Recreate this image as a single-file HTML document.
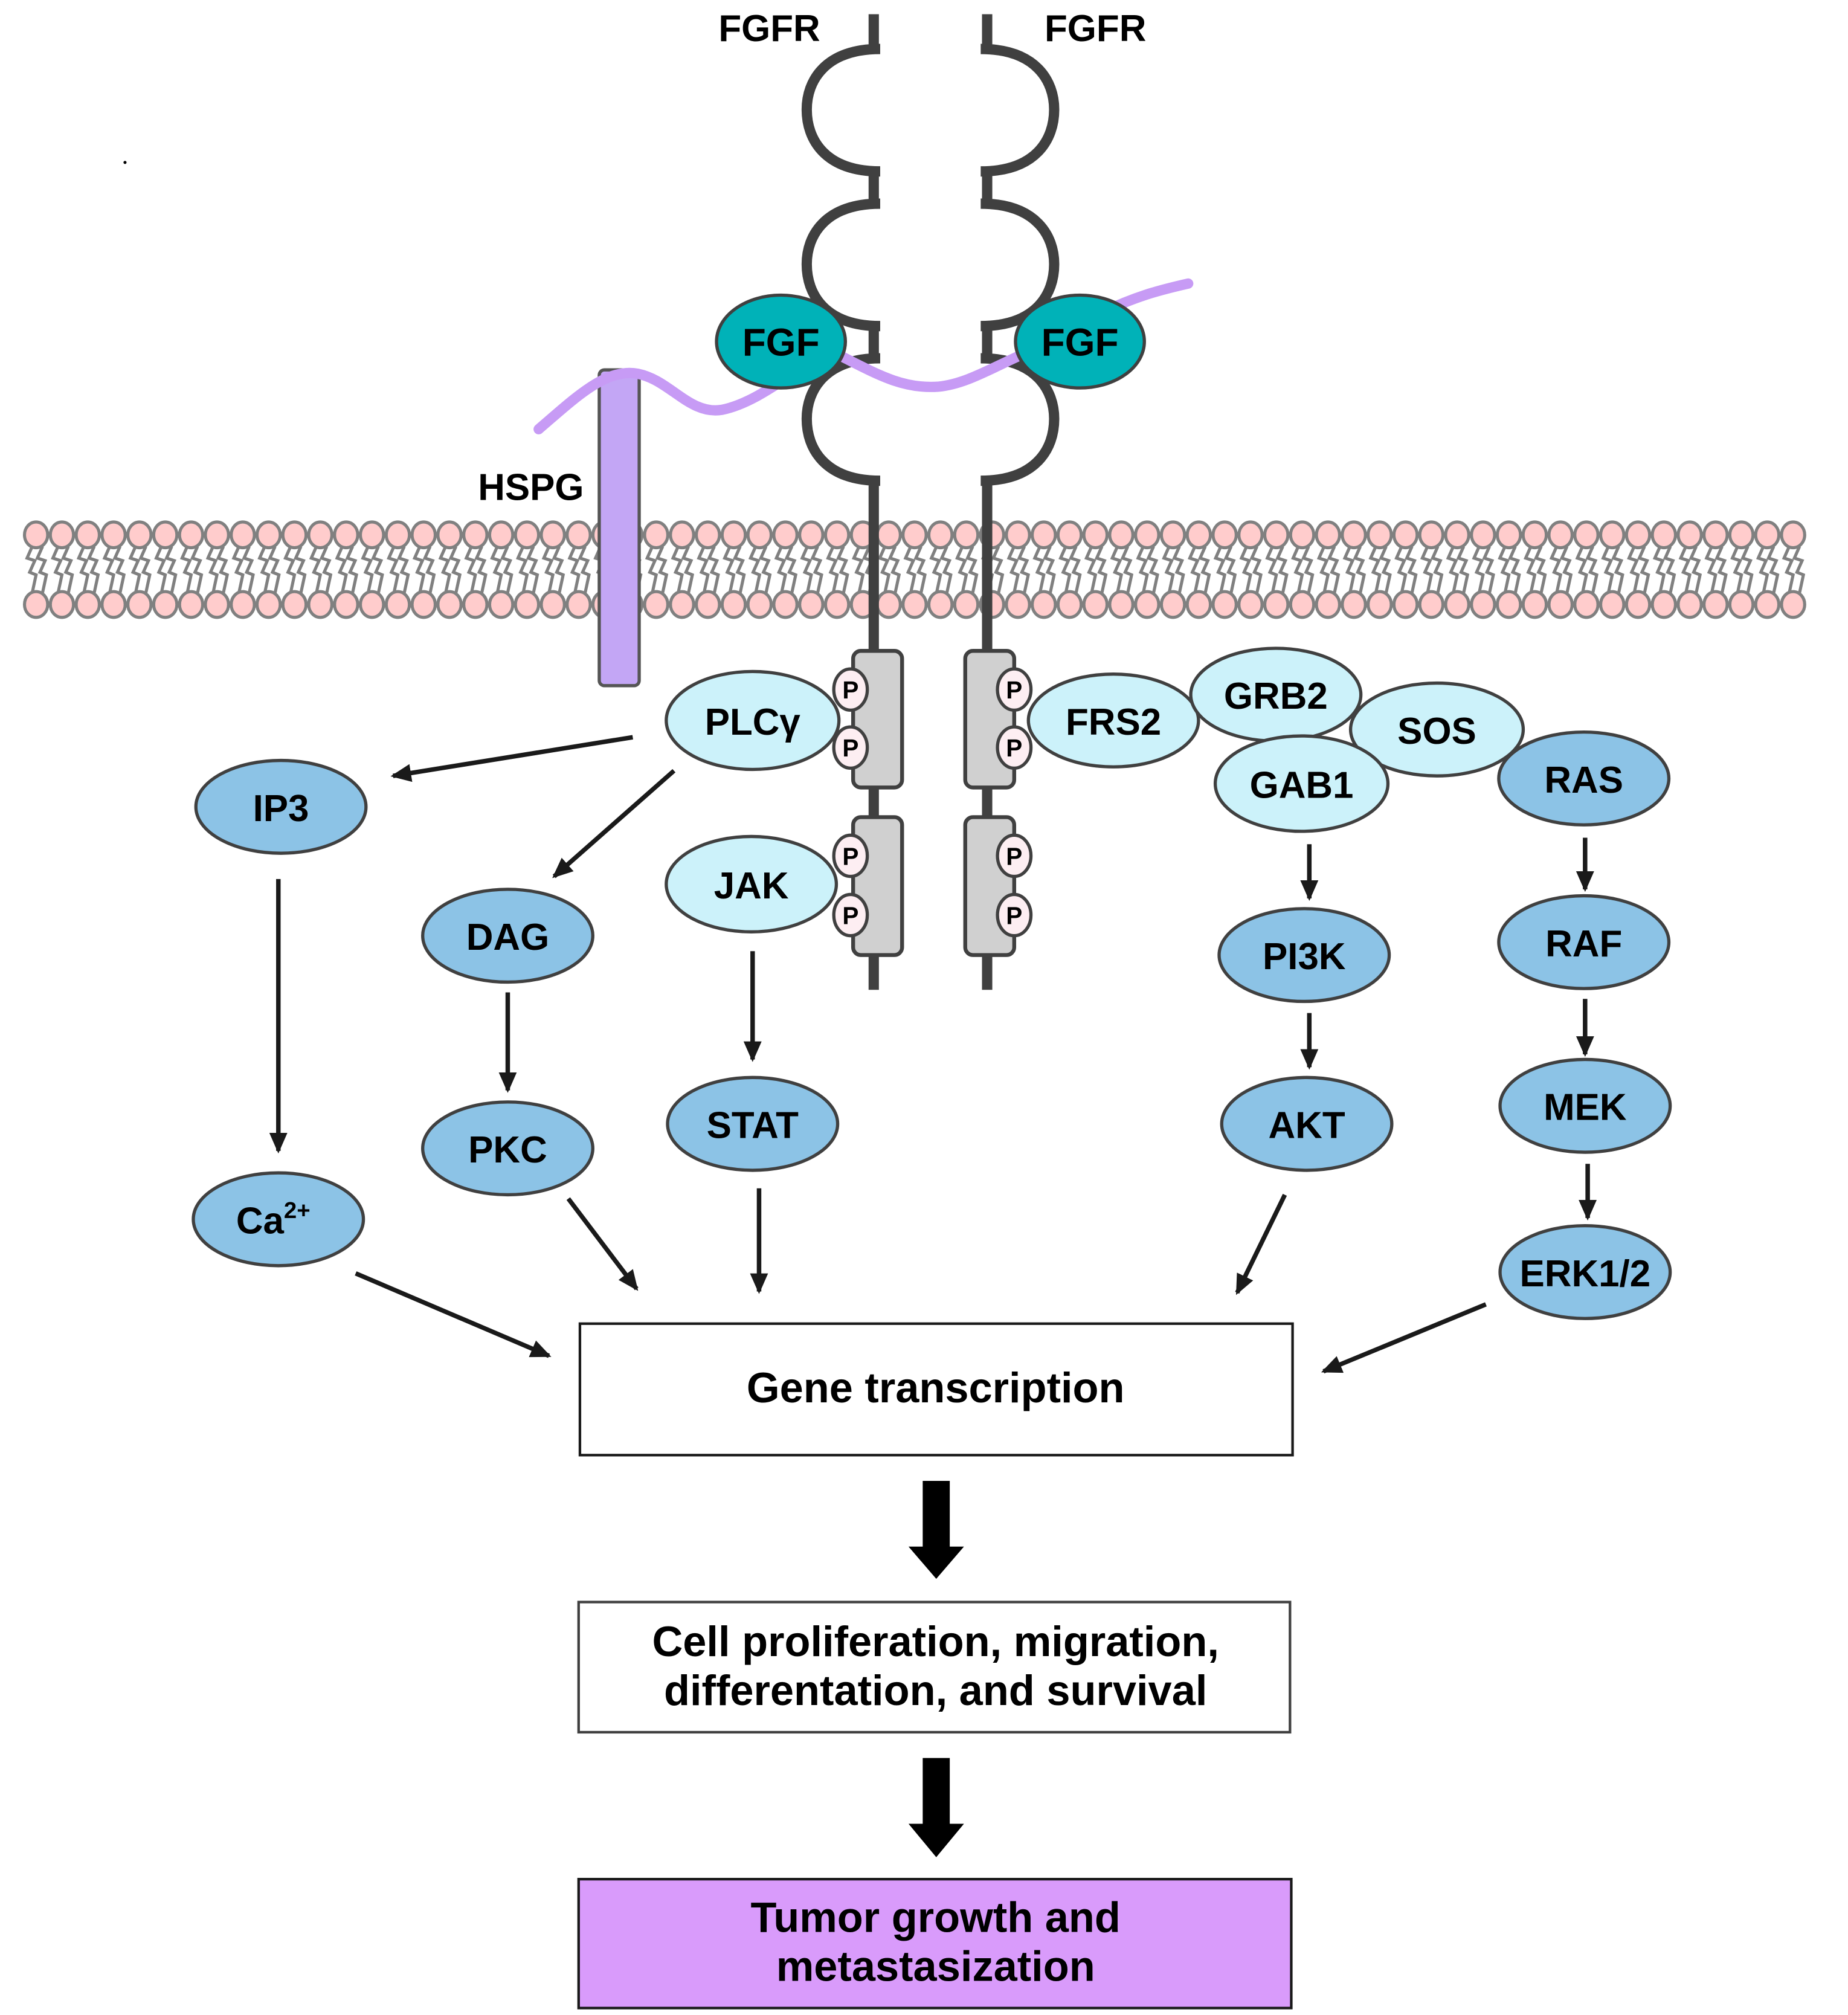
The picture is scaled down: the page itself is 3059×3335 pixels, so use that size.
<!DOCTYPE html>
<html><head><meta charset="utf-8"><style>html,body{margin:0;padding:0;background:#fff}svg{display:block}text{font-family:"Liberation Sans",sans-serif;font-weight:bold;fill:#000}</style></head>
<body>
<svg width="3059" height="3335" viewBox="0 0 1434 1563.4" preserveAspectRatio="none" xmlns="http://www.w3.org/2000/svg">
<defs>
<marker id="a" markerWidth="16" markerHeight="14" refX="14" refY="7" orient="auto" markerUnits="userSpaceOnUse"><path d="M0,0 L16,7 L0,14 z" fill="#1a1a1a"/></marker>
</defs>
<rect width="1434" height="1564" fill="#fff"/>
<circle cx="97" cy="126" r="1.2" fill="#000"/>
<g stroke="#808080" stroke-width="2.4" fill="none" id="tails"></g>
<g fill="#FFCCCC" stroke="#808080" stroke-width="2.4" id="heads"></g>
<!-- HSPG rod -->
<rect x="465" y="287" width="31" height="245" rx="4" fill="#C3A6F5" stroke="#555" stroke-width="2.5"/>
<!-- receptor -->
<g stroke="#404040" stroke-width="8" fill="none">
<path d="M678,11 V38 M683,38 C640,38 626,63 626,85 C626,108 640,133 683,133 M678,133 V158 M683,158 C640,158 626,183 626,205 C626,228 640,253 683,253 M678,253 V278 M683,278 C640,278 626,303 626,325 C626,348 640,373 683,373 M678,373 V768"/>
<path d="M766,11 V38 M761,38 C804,38 818,63 818,85 C818,108 804,133 761,133 M766,133 V158 M761,158 C804,158 818,183 818,205 C818,228 804,253 761,253 M766,253 V278 M761,278 C804,278 818,303 818,325 C818,348 804,373 761,373 M766,373 V768"/>
</g>
<!-- purple chain -->
<path d="M418,333 C445,310 470,285 495,290 C520,295 535,322 560,318 C580,314 600,300 615,290 L650,275 C680,290 700,302 728,300 C750,298 770,285 800,272 L850,245 C880,230 900,225 922,220" stroke="#C79BF5" stroke-width="8" fill="none" stroke-linecap="round"/>
<ellipse cx="606" cy="265" rx="50" ry="36" fill="#00B2B8" stroke="#404040" stroke-width="2.5"/>
<ellipse cx="838" cy="265" rx="50" ry="36" fill="#00B2B8" stroke="#404040" stroke-width="2.5"/>
<text x="606" y="276" font-size="30" text-anchor="middle">FGF</text>
<text x="838" y="276" font-size="30" text-anchor="middle">FGF</text>
<text x="597" y="32" font-size="29" text-anchor="middle">FGFR</text>
<text x="850" y="32" font-size="29" text-anchor="middle">FGFR</text>
<text x="412" y="388" font-size="29" text-anchor="middle">HSPG</text>
<!-- kinase domains -->
<g fill="#D0D0D0" stroke="#404040" stroke-width="3">
<rect x="662" y="505" width="38" height="106" rx="6"/><rect x="662" y="634" width="38" height="107" rx="6"/>
<rect x="749" y="505" width="38" height="106" rx="6"/><rect x="749" y="634" width="38" height="107" rx="6"/>
</g>
<g fill="#CCF2FA" stroke="#404040" stroke-width="2.5">
<ellipse cx="584" cy="559" rx="67" ry="38"/>
<ellipse cx="583" cy="686" rx="66" ry="37"/>
<ellipse cx="864" cy="559" rx="66" ry="36"/>
<ellipse cx="990" cy="539" rx="66" ry="36"/>
<ellipse cx="1115" cy="566" rx="67" ry="36"/>
<ellipse cx="1010" cy="608" rx="67" ry="37"/>
</g>
<g fill="#FDEEF2" stroke="#404040" stroke-width="2.5">
<ellipse cx="660" cy="535" rx="13" ry="16"/><ellipse cx="660" cy="580" rx="13" ry="16"/>
<ellipse cx="660" cy="664" rx="13" ry="16"/><ellipse cx="660" cy="710" rx="13" ry="16"/>
<ellipse cx="787" cy="535" rx="13" ry="16"/><ellipse cx="787" cy="580" rx="13" ry="16"/>
<ellipse cx="787" cy="664" rx="13" ry="16"/><ellipse cx="787" cy="710" rx="13" ry="16"/>
</g>
<g font-size="19" text-anchor="middle">
<text x="660" y="542">P</text><text x="660" y="587">P</text><text x="660" y="671">P</text><text x="660" y="717">P</text>
<text x="787" y="542">P</text><text x="787" y="587">P</text><text x="787" y="671">P</text><text x="787" y="717">P</text>
</g>
<g fill="#8CC3E6" stroke="#404040" stroke-width="2.5">
<ellipse cx="218" cy="626" rx="66" ry="36"/>
<ellipse cx="394" cy="726" rx="66" ry="36"/>
<ellipse cx="394" cy="891" rx="66" ry="36"/>
<ellipse cx="584" cy="872" rx="66" ry="36"/>
<ellipse cx="216" cy="946" rx="66" ry="36"/>
<ellipse cx="1012" cy="741" rx="66" ry="36"/>
<ellipse cx="1014" cy="872" rx="66" ry="36"/>
<ellipse cx="1229" cy="604" rx="66" ry="36"/>
<ellipse cx="1229" cy="731" rx="66" ry="36"/>
<ellipse cx="1230" cy="858" rx="66" ry="36"/>
<ellipse cx="1230" cy="987" rx="66" ry="36"/>
</g>
<g font-size="29" text-anchor="middle">
<text x="584" y="570">PLCγ</text><text x="583" y="697">JAK</text><text x="864" y="570">FRS2</text>
<text x="990" y="550">GRB2</text><text x="1115" y="577">SOS</text><text x="1010" y="619">GAB1</text>
<text x="218" y="637">IP3</text><text x="394" y="737">DAG</text><text x="394" y="902">PKC</text>
<text x="584" y="883">STAT</text><text x="212" y="957">Ca<tspan font-size="18" dy="-12">2+</tspan></text>
<text x="1012" y="752">PI3K</text><text x="1014" y="883">AKT</text>
<text x="1229" y="615">RAS</text><text x="1229" y="742">RAF</text><text x="1230" y="869">MEK</text><text x="1230" y="998">ERK1/2</text>
</g>
<g stroke="#1a1a1a" stroke-width="3.5" marker-end="url(#a)" fill="none">
<line x1="491" y1="572" x2="305" y2="602"/>
<line x1="523" y1="598" x2="430" y2="680"/>
<line x1="216" y1="682" x2="216" y2="893"/>
<line x1="394" y1="770" x2="394" y2="846"/>
<line x1="584" y1="738" x2="584" y2="822"/>
<line x1="1016" y1="655" x2="1016" y2="697"/>
<line x1="1016" y1="786" x2="1016" y2="828"/>
<line x1="1230" y1="650" x2="1230" y2="690"/>
<line x1="1230" y1="775" x2="1230" y2="818"/>
<line x1="1232" y1="903" x2="1232" y2="945"/>
<line x1="441" y1="930" x2="494" y2="1000"/>
<line x1="589" y1="922" x2="589" y2="1002"/>
<line x1="997" y1="927" x2="960" y2="1003"/>
<line x1="276" y1="988" x2="426" y2="1052"/>
<line x1="1153" y1="1012" x2="1027" y2="1064"/>
</g>
<rect x="450" y="1027" width="553" height="102" fill="#fff" stroke="#1a1a1a" stroke-width="2"/>
<text x="726" y="1088" font-size="33" text-anchor="middle">Gene transcription</text>
<path d="M716,1149 H737 V1200 H748 L726.5,1225 L705,1200 H716 Z" fill="#000"/>
<rect x="449" y="1243" width="552" height="101" fill="#fff" stroke="#404040" stroke-width="2"/>
<text x="726" y="1285" font-size="33" text-anchor="middle">Cell proliferation, migration,</text>
<text x="726" y="1323" font-size="33" text-anchor="middle">differentation, and survival</text>
<path d="M716,1364 H737 V1415 H748 L726.5,1441 L705,1415 H716 Z" fill="#000"/>
<rect x="449" y="1458" width="553" height="100" fill="#D99BFB" stroke="#1a1a1a" stroke-width="2"/>
<text x="726" y="1499" font-size="33" text-anchor="middle">Tumor growth and</text>
<text x="726" y="1537" font-size="33" text-anchor="middle">metastasization</text>
</svg>
<script>
(function(){
var ns="http://www.w3.org/2000/svg";
var heads=document.getElementById("heads"),tails=document.getElementById("tails");
for(var x=28;x<=1407;x+=20.05){
 [415,469].forEach(function(y){var c=document.createElementNS(ns,"ellipse");c.setAttribute("cx",x);c.setAttribute("cy",y);c.setAttribute("rx",9);c.setAttribute("ry",10);heads.appendChild(c);});
 [-4,4].forEach(function(o){var p=document.createElementNS(ns,"path");var a=x+o;
 p.setAttribute("d","M"+(a+1)+",424 L"+(a-3)+",433 L"+(a+3)+",435 L"+(a-1)+",444 L"+(a+4)+",446 L"+(a+1)+",460");tails.appendChild(p);});
}
})();
</script>
</body></html>
